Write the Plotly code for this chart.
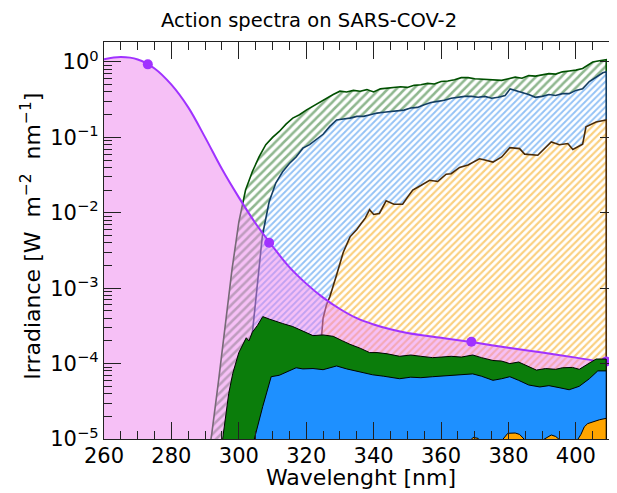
import plotly.graph_objects as go

# action spectrum (smooth curve) and its marked points
act_wl = [260, 265, 270, 275, 280, 285, 290, 295, 300, 305, 310, 315, 320, 325, 330,
          335, 340, 345, 350, 360, 370, 380, 390, 400, 409]
act_val = [1.09, 1.16, 1.08, 0.82, 0.5, 0.25, 0.1, 0.038, 0.016, 7.2e-3, 3.6e-3, 1.9e-3,
           1.15e-3, 7.5e-4, 5.3e-4, 4.0e-4, 3.3e-4, 2.85e-4, 2.55e-4, 2.2e-4, 1.9e-4,
           1.62e-4, 1.4e-4, 1.2e-4, 1.03e-4]
mark_wl = [273, 309, 369, 409]
mark_val = [0.93, 4.0e-3, 1.95e-4, 1.07e-4]

# hatched irradiance spectra
green_wl = [290, 292, 294, 296, 298, 300, 302, 304, 306, 308, 310, 312, 314, 316, 318, 320,
            322, 324, 326, 328, 330, 332, 334, 336, 338, 340, 342, 344, 346, 348, 350, 352,
            354, 356, 358, 360, 362, 364, 366, 368, 370, 372, 374, 376, 378, 380, 382, 384,
            386, 388, 390, 392, 394, 396, 398, 400, 402, 403, 404, 405, 407, 409]
green_val = [3e-6, 1.2e-5, 6e-5, 3.5e-4, 1.8e-3, 7.5e-3, 0.02, 0.035, 0.055, 0.08, 0.1, 0.12,
             0.15, 0.18, 0.2, 0.23, 0.26, 0.29, 0.33, 0.37, 0.41, 0.4, 0.42, 0.41, 0.43, 0.4,
             0.44, 0.45, 0.46, 0.47, 0.46, 0.49, 0.5, 0.52, 0.51, 0.55, 0.56, 0.58, 0.62, 0.62,
             0.6, 0.59, 0.58, 0.58, 0.57, 0.6, 0.63, 0.61, 0.66, 0.65, 0.68, 0.7, 0.69, 0.74,
             0.76, 0.78, 0.82, 0.87, 0.93, 1.0, 1.04, 1.07]

blue_wl = [298, 300, 302, 304, 306, 307, 309, 311, 313, 315, 317, 319, 321, 323, 325, 327,
           329, 331, 333, 335, 337, 339, 341, 343, 345, 347, 349, 351, 353, 355, 357, 359,
           361, 363, 365, 367, 369, 371, 373, 375, 377, 379, 380.5, 382, 384, 386, 388, 390,
           392, 394, 396, 398, 400, 402, 404, 406, 408, 409]
blue_val = [1e-6, 8e-6, 6e-5, 2.5e-4, 1.8e-3, 5e-3, 0.014, 0.025, 0.035, 0.045, 0.055, 0.072,
            0.08, 0.095, 0.11, 0.14, 0.17, 0.175, 0.18, 0.19, 0.19, 0.2, 0.21, 0.215, 0.22,
            0.22, 0.23, 0.245, 0.25, 0.27, 0.29, 0.3, 0.31, 0.33, 0.34, 0.35, 0.35, 0.34, 0.35,
            0.33, 0.34, 0.36, 0.44, 0.42, 0.4, 0.37, 0.34, 0.35, 0.37, 0.36, 0.38, 0.38, 0.42,
            0.44, 0.55, 0.63, 0.72, 0.74]

orange_wl = [320, 322, 324, 325, 326, 327, 329, 331, 333, 335, 336.3, 337.5, 338.8, 340,
             341.7, 343.7, 346, 348.6, 350, 351.6, 354, 356.6, 359, 361.5, 363, 365.5, 368,
             371.4, 373, 375.4, 378, 380.4, 383.3, 384.8, 388.7, 392.7, 395.1, 397.6, 399.1,
             402, 403, 406, 409]
orange_val = [1e-6, 1e-5, 1.2e-4, 4e-4, 6e-4, 7.7e-4, 1.5e-3, 3e-3, 4.8e-3, 6e-3, 7.2e-3,
              8.5e-3, 0.011, 0.0095, 0.0098, 0.0144, 0.013, 0.013, 0.016, 0.02, 0.023, 0.027,
              0.026, 0.0325, 0.033, 0.04, 0.043, 0.052, 0.05, 0.047, 0.055, 0.073, 0.071, 0.06,
              0.058, 0.087, 0.08, 0.083, 0.069, 0.081, 0.138, 0.16, 0.17]

# weighted (solid) spectra
sgreen_wl = [293, 295.2, 297, 298.2, 300, 302.2, 303, 304, 305.5, 307.1, 309, 311, 313, 316,
             319, 322, 325, 328, 330.8, 333, 336, 338.8, 341, 344, 347.7, 351, 354, 357.5,
             360, 363, 366, 369.4, 372, 375.4, 378, 380.4, 383, 385, 388.3, 391, 394, 396,
             399, 401, 404, 406, 409]
sgreen_val = [1e-6, 1e-5, 4e-5, 7.4e-5, 1.4e-4, 2.2e-4, 2.0e-4, 2.6e-4, 3.2e-4, 4.2e-4,
              3.9e-4, 3.6e-4, 3.4e-4, 3.1e-4, 2.7e-4, 2.35e-4, 2.4e-4, 2.3e-4, 2.0e-4, 1.8e-4,
              1.6e-4, 1.4e-4, 1.4e-4, 1.35e-4, 1.25e-4, 1.3e-4, 1.25e-4, 1.2e-4, 1.22e-4,
              1.25e-4, 1.22e-4, 1.3e-4, 1.2e-4, 1.1e-4, 1.08e-4, 1.0e-4, 1.05e-4, 9.5e-5,
              8.2e-5, 8.6e-5, 8.4e-5, 8.8e-5, 8.9e-5, 8.4e-5, 1.0e-4, 1.15e-4, 1.15e-4]

sblue_wl = [302, 304.6, 307.1, 309.6, 312, 314, 317, 319, 322, 325, 327, 329, 332, 336,
            339.7, 343, 347.7, 351, 354, 357.5, 361, 365, 369.4, 372, 375.4, 378, 380.4,
            383, 386, 389.3, 392, 395, 398, 401, 404, 406.5, 409]
sblue_val = [1e-6, 1e-5, 2.7e-5, 6.7e-5, 7.0e-5, 7.6e-5, 8.8e-5, 8.5e-5, 8.6e-5, 8.3e-5,
             8.8e-5, 9.3e-5, 8.5e-5, 7.8e-5, 7.1e-5, 6.8e-5, 6.3e-5, 6.6e-5, 6.5e-5, 6.7e-5,
             6.9e-5, 7.1e-5, 7.3e-5, 6.8e-5, 6.0e-5, 6.3e-5, 6.7e-5, 6.0e-5, 5.2e-5, 4.9e-5,
             5.1e-5, 4.8e-5, 4.5e-5, 5.0e-5, 6.3e-5, 8.0e-5, 8.0e-5]

sorange_wl = [322, 330, 340, 350, 360, 366, 368, 369.5, 371, 372.5, 376, 378, 379.8, 382,
              383.3, 385.6, 388, 390.7, 392.7, 394, 395.5, 398, 400, 401.5, 402.5, 403.5,
              405, 407, 409]
sorange_val = [1e-7, 2e-6, 3e-6, 4e-6, 5.5e-6, 7e-6, 9e-6, 1.05e-5, 1.02e-5, 8e-6, 8e-6,
               9.5e-6, 1.19e-5, 1.2e-5, 1.15e-5, 9e-6, 8.5e-6, 1.0e-5, 1.13e-5, 1.08e-5,
               9.5e-6, 8e-6, 9e-6, 1.15e-5, 1.45e-5, 1.6e-5, 1.7e-5, 1.8e-5, 1.88e-5]

ytick_vals = [1e-5, 1e-4, 1e-3, 1e-2, 1e-1, 1]
ytick_text = ['10<sup>−5</sup>', '10<sup>−4</sup>', '10<sup>−3</sup>', '10<sup>−2</sup>',
              '10<sup>−1</sup>', '10<sup>0</sup>']

FLOOR = 1e-8


def band(wl, val):
    # closed polygon down to below the axis floor (like fill_between)
    return list(wl) + list(wl[::-1]), list(val) + [FLOOR] * len(wl)


fig = go.Figure()

# hatched spectra (white background so each one hides the hatch below it)
for wl, val, edge, hatch, size in [
    (green_wl, green_val, '#005000', '#1f701f', 6),
    (blue_wl, blue_val, '#123d63', '#2a86ec', 4.5),
    (orange_wl, orange_val, '#4a2a06', '#f5a000', 5),
]:
    xs, ys = band(wl, val)
    fig.add_trace(go.Scatter(
        x=xs, y=ys, mode='lines', fill='toself',
        fillcolor='white',
        fillpattern=dict(shape='/', fgcolor=hatch, bgcolor='white',
                         size=size, solidity=0.42),
        line=dict(color=edge, width=1.6), hoverinfo='skip'))

# action spectrum: pink fill + purple line
fig.add_trace(go.Scatter(x=[act_wl[0], act_wl[-1]], y=[FLOOR, FLOOR], mode='lines',
                         line=dict(width=0), hoverinfo='skip'))
fig.add_trace(go.Scatter(x=act_wl, y=act_val, mode='lines', fill='tonexty',
                         fillcolor='rgba(238,130,238,0.5)',
                         line=dict(color='#a032ff', width=2, shape='spline', smoothing=1.0)))
fig.add_trace(go.Scatter(x=mark_wl, y=mark_val, mode='markers',
                         marker=dict(color='#a032ff', size=10)))

# weighted spectra, solid
for wl, val, col in [
    (sgreen_wl, sgreen_val, '#0b7d0b'),
    (sblue_wl, sblue_val, '#1e90ff'),
    (sorange_wl, sorange_val, '#ffa500'),
]:
    xs, ys = band(wl, val)
    fig.add_trace(go.Scatter(x=xs, y=ys, mode='lines', fill='toself', fillcolor=col,
                             line=dict(color='black', width=1), hoverinfo='skip'))

axis_common = dict(showline=True, linecolor='#222', linewidth=1.3, mirror='ticks',
                   ticks='inside', ticklen=17, tickwidth=1.2, tickcolor='#222',
                   showgrid=False, zeroline=False,
                   tickfont=dict(size=21, family='DejaVu Sans', color='black'))

fig.update_xaxes(range=[260, 412.2], tick0=260, dtick=20, ticklabelstandoff=-2,
                 minor=dict(ticks='inside', ticklen=8, tickwidth=1.2, tickcolor='#222',
                            dtick=5, tick0=260),
                 **axis_common)
fig.update_yaxes(type='log', range=[-5, 0.265], tickmode='array', tickvals=ytick_vals,
                 ticktext=ytick_text, ticklabelstandoff=0,
                 minor=dict(ticks='inside', ticklen=8, tickwidth=1.2, tickcolor='#222',
                            tickmode='array',
                            tickvals=[m * 10 ** e for e in range(-5, 1) for m in range(2, 10)]),
                 **axis_common)

NB = '\u00a0'
ylabel = f'Irradiance [W{NB*2}m<sup>−2</sup>{NB*2}nm<sup>−1</sup>]'

# the page adds an 8px body margin, so the figure is laid out 8px smaller
fig.update_layout(
    width=609, height=485,
    margin=dict(l=96, r=0, t=34, b=54),
    plot_bgcolor='white', paper_bgcolor='white',
    showlegend=False,
    font=dict(family='DejaVu Sans', color='black'),
    title=dict(text='Action spectra on SARS-COV-2', x=301 / 609, xref='container',
               xanchor='center', y=1 - 12.5 / 485, yref='container', yanchor='middle',
               pad=dict(t=0, b=0), font=dict(size=19.5)),
    annotations=[
        dict(text='Wavelenght [nm]', x=0.5, y=-0.098, xref='paper', yref='paper',
             showarrow=False, xanchor='center', yanchor='middle', font=dict(size=22)),
        dict(text=ylabel, x=-0.144, y=0.51,
             xref='paper', yref='paper', showarrow=False, textangle=-90,
             xanchor='center', yanchor='middle', font=dict(size=22)),
    ],
)

fig.write_html("out.html")
